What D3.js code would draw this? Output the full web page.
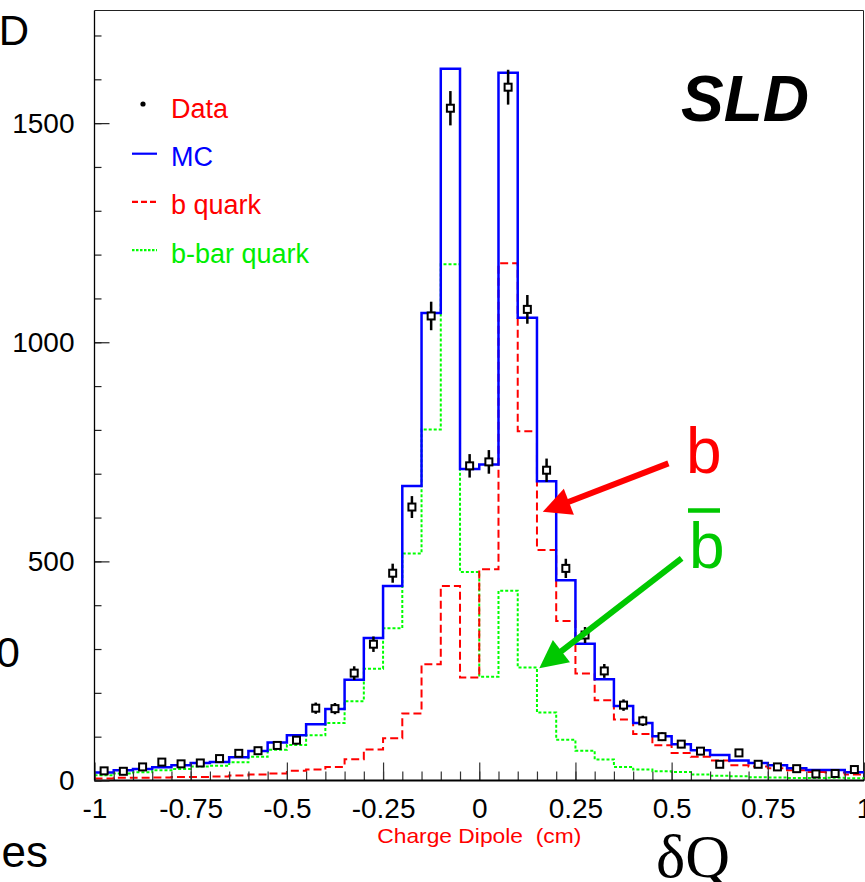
<!DOCTYPE html>
<html>
<head>
<meta charset="utf-8">
<script src="https://cdn.jsdelivr.net/npm/d3@7"></script>
<style>
  html, body { margin: 0; padding: 0; background: #fff; }
  svg { display: block; }
  text { font-family: "Liberation Sans", Arial, Helvetica, sans-serif; }
</style>
</head>
<body>
<svg id="chart" width="865" height="882"></svg>
<script>
// Charge dipole distribution, 40 bins of 0.05 cm from -1 to 1
const binCenters = d3.range(40).map(i => -0.975 + i * 0.05);
const binWidth = 0.05;

// Monte Carlo total
const mcValues = [
  18, 23.5, 26, 30, 35, 40, 42.5, 53, 67.5, 86.5,
  103, 128.5, 163, 230, 325, 444, 672, 1067, 1624, 711,
  721, 1615, 1056, 683, 457, 312, 231, 170, 131, 101,
  83, 69, 58, 45.5, 40, 35, 28, 24, 24, 19
];
// b quark component
const bQuarkValues = [
  4.5, 6, 6.5, 7, 8, 8, 9, 11.5, 13.5, 16,
  22, 25, 31, 48.5, 70.5, 96.5, 153, 265, 444, 235,
  482, 1180, 797, 526, 364, 244, 183, 139, 106, 80.5,
  63, 54, 45.5, 35, 32, 28, 23.5, 19.5, 18, 13.5
];
// b-bar quark component
const bBarValues = [
  12, 16, 19, 23.5, 26.5, 32, 33.5, 41.5, 54, 70,
  81, 103, 131, 181, 255, 347.5, 518, 801, 1178, 476,
  237, 433, 258, 155, 93, 68, 48, 31, 25, 21,
  19.5, 13.5, 11, 9.5, 7.5, 7, 5.5, 5.5, 6, 5
];
// Measured data
const dataValues = [
  22, 21, 31, 42, 38, 40, 50, 62, 68, 80,
  92, 165, 164, 245, 311, 473, 624, 1060, 1534, 718,
  727, 1582, 1075, 708, 484, 332, 250, 172, 136, 100,
  83, 67, 37, 63, 37, 31, 27, 15, 16, 25
];

const xMajorTicks = [-1, -0.75, -0.5, -0.25, 0, 0.25, 0.5, 0.75, 1];
const xMinorTicks = d3.range(41).map(i => +(-1 + i * 0.05).toFixed(2));
const yMajorTicks = [0, 500, 1000, 1500];
const yMinorTicks = d3.range(0, 1800, 100);

const legendEntries = [
  { label: "Data", kind: "dot", color: "#ff0000" },
  { label: "MC", kind: "solid", color: "#0000ff" },
  { label: "b quark", kind: "dash", color: "#ff0000" },
  { label: "b-bar quark", kind: "dot-line", color: "#00ee00" }
];

// Arrows in data coordinates: from label towards the histograms
const arrows = [
  { from: [0.4916, 723.6], to: [0.165, 613], color: "#ff0000" },
  { from: [0.526, 507], to: [0.156, 256], color: "#00c800" }
];

const svg = d3.select("#chart");
const plotLeft = 94.5, plotRight = 864, plotTop = 10.5, plotBottom = 780.5;

const x = d3.scaleLinear().domain([-1, 1]).range([plotLeft, plotRight]);
const y = d3.scaleLinear().domain([0, 1757]).range([plotBottom, plotTop]);

// frame
svg.append("line").attr("x1", plotLeft).attr("x2", plotRight - 0.5)
  .attr("y1", plotTop).attr("y2", plotTop).attr("stroke", "#222").attr("stroke-width", 1);
svg.append("line").attr("x1", plotRight - 0.5).attr("x2", plotRight - 0.5)
  .attr("y1", plotTop).attr("y2", plotBottom).attr("stroke", "#222").attr("stroke-width", 1);

// step outline for a histogram
function stepPoints(values) {
  const pts = [];
  values.forEach((v, i) => {
    const c = binCenters[i];
    pts.push([x(c - binWidth / 2), y(v)]);
    pts.push([x(c + binWidth / 2), y(v)]);
  });
  return pts;
}
const line = d3.line();

svg.append("path").attr("d", line(stepPoints(bBarValues)))
  .attr("fill", "none").attr("stroke", "#00ff00").attr("stroke-width", 2)
  .attr("stroke-dasharray", "3,2");
svg.append("path").attr("d", line(stepPoints(bQuarkValues)))
  .attr("fill", "none").attr("stroke", "#ff0000").attr("stroke-width", 2)
  .attr("stroke-dasharray", "8,4");
svg.append("path").attr("d", line(stepPoints(mcValues)))
  .attr("fill", "none").attr("stroke", "#0000ff").attr("stroke-width", 2.5);

// data points with sqrt(N) error bars
const pointLayer = svg.append("g");
dataValues.forEach((v, i) => {
  const cx = x(binCenters[i]);
  const err = Math.sqrt(v);
  pointLayer.append("line").attr("x1", cx).attr("x2", cx)
    .attr("y1", y(v - err)).attr("y2", y(v + err))
    .attr("stroke", "#000").attr("stroke-width", 2.5);
  pointLayer.append("rect").attr("x", cx - 3.5).attr("y", y(v) - 3.5)
    .attr("width", 7).attr("height", 7)
    .attr("fill", "#fff").attr("stroke", "#000").attr("stroke-width", 2);
});

// axes
const fontAxis = "28px";
const xAxisMinor = d3.axisBottom(x).tickValues(xMinorTicks).tickSize(-9).tickFormat("");
const xAxisMajor = d3.axisBottom(x).tickValues(xMajorTicks).tickSize(-18)
  .tickPadding(17.5).tickFormat(d => String(d));
const gxm = svg.append("g").attr("transform", `translate(0,${plotBottom})`).call(xAxisMinor);
const gx = svg.append("g").attr("transform", `translate(0,${plotBottom})`).call(xAxisMajor);
[gxm, gx].forEach(g => {
  g.select(".domain").remove();
  g.selectAll(".tick line").attr("stroke", "#333").attr("stroke-width", 1.2);
});
gx.selectAll("text").attr("font-size", fontAxis).attr("fill", "#000")
  .attr("font-family", "Liberation Sans, Arial, sans-serif");
svg.append("line").attr("x1", plotLeft).attr("x2", plotRight).attr("y1", plotBottom).attr("y2", plotBottom)
  .attr("stroke", "#000").attr("stroke-width", 2);

const yAxisMinor = d3.axisLeft(y).tickValues(yMinorTicks).tickSize(-7).tickFormat("");
const yAxisMajor = d3.axisLeft(y).tickValues(yMajorTicks).tickSize(-15)
  .tickPadding(20).tickFormat(d => String(d));
const gym = svg.append("g").attr("transform", `translate(${plotLeft},0)`).call(yAxisMinor);
const gy = svg.append("g").attr("transform", `translate(${plotLeft},0)`).call(yAxisMajor);
[gym, gy].forEach(g => {
  g.select(".domain").remove();
  g.selectAll(".tick line").attr("stroke", "#222").attr("stroke-width", 1.2);
});
gy.selectAll("text").attr("font-size", fontAxis).attr("fill", "#000")
  .attr("font-family", "Liberation Sans, Arial, sans-serif");
svg.append("line").attr("x1", plotLeft).attr("x2", plotLeft).attr("y1", plotTop).attr("y2", plotBottom)
  .attr("stroke", "#000").attr("stroke-width", 1.3);

// axis title
svg.append("text").attr("x", x(0)).attr("y", 843).attr("text-anchor", "middle")
  .attr("font-size", "21px").attr("fill", "#ff0000")
  .attr("textLength", 204).attr("lengthAdjust", "spacingAndGlyphs")
  .text("Charge Dipole \u00a0(cm)");
svg.append("text").attr("x", 656).attr("y", 877)
  .style("font-family", "'Liberation Serif', 'Times New Roman', serif")
  .attr("font-size", "62px").attr("fill", "#000").text("δQ");

// experiment label
svg.append("text").attr("x", 681).attr("y", 121)
  .attr("font-size", "64px").attr("font-weight", "bold").attr("font-style", "italic")
  .attr("fill", "#000").text("SLD");

// legend
const lg = svg.append("g");
legendEntries.forEach((e, i) => {
  const base = 118 + i * 48.2;
  const ly = base - 12.5;
  if (e.kind === "dot") {
    lg.append("circle").attr("cx", 143).attr("cy", ly - 1.5).attr("r", 2.6).attr("fill", "#000");
  } else {
    const s = lg.append("line").attr("x1", 132).attr("x2", 157).attr("y1", ly).attr("y2", ly)
      .attr("stroke", e.color).attr("stroke-width", 2.2);
    if (e.kind === "dash") s.attr("stroke-dasharray", "6,3");
    if (e.kind === "dot-line") s.attr("stroke-dasharray", "2.5,1.5").attr("stroke", "#00ff00");
  }
  lg.append("text").attr("x", 171).attr("y", base).attr("font-size", "27px")
    .attr("fill", e.color).text(e.label);
});

// arrows
arrows.forEach(a => {
  const x0 = x(a.from[0]), y0 = y(a.from[1]);
  const x1 = x(a.to[0]), y1 = y(a.to[1]);
  const dx = x1 - x0, dy = y1 - y0, len = Math.hypot(dx, dy);
  const ux = dx / len, uy = dy / len, px = -uy, py = ux;
  const headLen = 28, headW = 14;
  const bx = x1 - ux * headLen, by = y1 - uy * headLen;
  svg.append("line").attr("x1", x0).attr("y1", y0).attr("x2", bx + ux * 2).attr("y2", by + uy * 2)
    .attr("stroke", a.color).attr("stroke-width", 6);
  svg.append("path")
    .attr("d", `M${x1},${y1}L${bx + px * headW},${by + py * headW}L${bx - px * headW},${by - py * headW}Z`)
    .attr("fill", a.color);
});

// quark labels
svg.append("text").attr("x", 686).attr("y", 473).attr("font-size", "64px")
  .attr("fill", "#ff0000").text("b");
svg.append("text").attr("x", 689).attr("y", 568).attr("font-size", "64px")
  .attr("fill", "#00c800").text("b");
svg.append("line").attr("x1", 688).attr("x2", 720).attr("y1", 510.5).attr("y2", 510.5)
  .attr("stroke", "#00c800").attr("stroke-width", 4.5);

// fragments of the neighbouring panel at the left edge
svg.append("text").attr("x", 29).attr("y", 45).attr("text-anchor", "end")
  .attr("font-size", "42px").attr("fill", "#000").text("D");
svg.append("text").attr("x", 20).attr("y", 667).attr("text-anchor", "end")
  .attr("font-size", "43px").attr("fill", "#000").text("0");
svg.append("text").attr("x", 48).attr("y", 867).attr("text-anchor", "end")
  .attr("font-size", "44px").attr("fill", "#000").text("es");
</script>
</body>
</html>
